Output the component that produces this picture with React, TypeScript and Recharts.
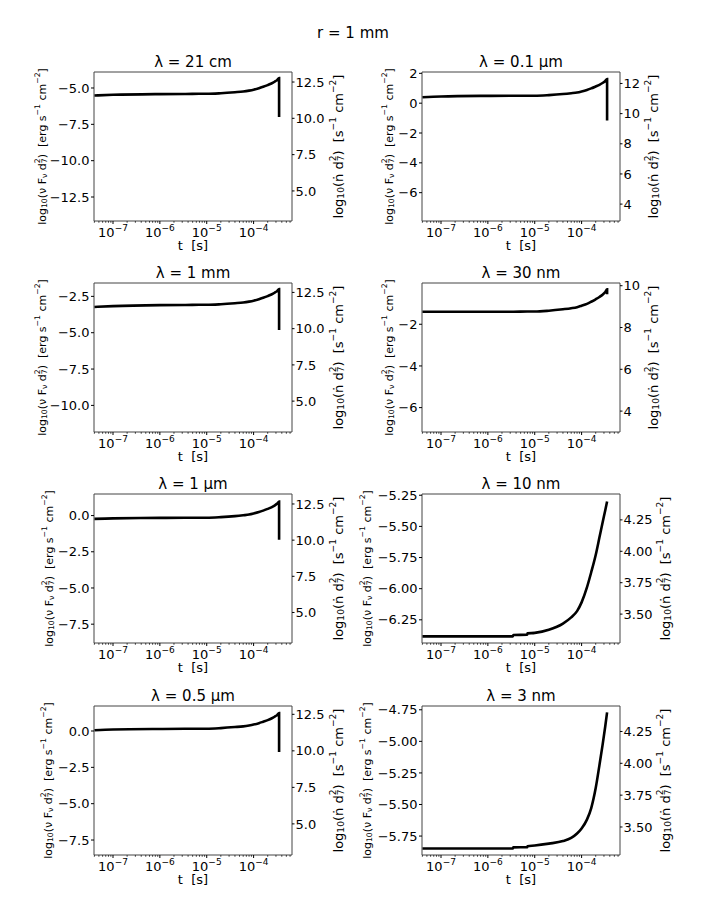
import { LineChart, Line, XAxis, YAxis, ReferenceLine } from 'recharts';

// r = 1 mm: log10 flux vs time for eight wavelengths (left axis = ν Fν d7², right axis = ṅ d7²)

const FONT = '"DejaVu Sans", sans-serif';
const SPINE = '#444';

// time samples [s]
const times = [
  4e-8, 1e-7, 1e-6, 3.4e-6, 3.5e-6, 6.9e-6, 7e-6, 1e-5, 2e-5, 4e-5, 6e-5, 8e-5, 1e-4, 1.3e-4, 1.6e-4, 2e-4,
  2.4e-4, 2.8e-4, 3.2e-4, 3.5e-4, 3.5e-4,
];

// log10(ν Fν d7²) per wavelength, one value per time sample
const flux21cm = [
  -5.52, -5.47, -5.42, -5.41, -5.41, -5.4, -5.4, -5.4, -5.36, -5.29, -5.24, -5.18, -5.12, -5.02, -4.92, -4.8,
  -4.69, -4.57, -4.44, -4.31, -7.0,
];
const flux01um = [
  0.4, 0.45, 0.49, 0.5, 0.5, 0.5, 0.5, 0.5, 0.54, 0.61, 0.67, 0.72, 0.79, 0.89, 0.99, 1.12, 1.23, 1.35, 1.49, 1.62,
  -1.16,
];
const flux1mm = [
  -3.23, -3.17, -3.1, -3.09, -3.09, -3.08, -3.08, -3.08, -3.04, -2.97, -2.92, -2.86, -2.8, -2.7, -2.6, -2.48, -2.37,
  -2.25, -2.12, -1.99, -4.82,
];
const flux30nm = [
  -1.4, -1.4, -1.4, -1.4, -1.4, -1.39, -1.39, -1.39, -1.35, -1.28, -1.23, -1.18, -1.11, -1.02, -0.92, -0.8, -0.69,
  -0.58, -0.45, -0.32, -0.56,
];
const flux1um = [
  -0.23, -0.19, -0.16, -0.15, -0.15, -0.15, -0.15, -0.15, -0.11, -0.04, 0.02, 0.07, 0.14, 0.24, 0.34, 0.46, 0.57,
  0.69, 0.83, 0.96, -1.67,
];
const flux10nm = [
  -6.383, -6.383, -6.383, -6.383, -6.372, -6.37, -6.359, -6.355, -6.33, -6.28, -6.23, -6.18, -6.11, -5.99, -5.87,
  -5.73, -5.59, -5.47, -5.37, -5.3, null,
];
const flux05um = [
  0.05, 0.1, 0.14, 0.15, 0.15, 0.16, 0.16, 0.16, 0.2, 0.27, 0.32, 0.38, 0.44, 0.54, 0.64, 0.75, 0.86, 0.98, 1.11,
  1.24, -1.44,
];
const flux3nm = [
  -5.848, -5.848, -5.848, -5.848, -5.84, -5.838, -5.83, -5.825, -5.81, -5.79, -5.765, -5.73, -5.69, -5.62, -5.53,
  -5.37, -5.19, -5.03, -4.88, -4.77, null,
];

// axis ticks
const xDomain: [number, number] = [3.93e-8, 6.6e-4];
const xMajor = [1e-7, 1e-6, 1e-5, 1e-4];
const xMinor: number[] = [];
for (const dec of [1e-8, 1e-7, 1e-6, 1e-5, 1e-4]) {
  for (const m of [2, 3, 4, 5, 6, 7, 8, 9]) {
    const v = m * dec;
    if (v >= xDomain[0] && v <= xDomain[1]) xMinor.push(v);
  }
}
const xTicks = [...xMajor, ...xMinor].sort((a, b) => a - b);

const ticksA = [-12.5, -10, -7.5, -5];
const ticksB = [-6, -4, -2, 0, 2];
const ticksC = [-10, -7.5, -5, -2.5];
const ticksD = [-6, -4, -2];
const ticksE = [-7.5, -5, -2.5, 0];
const ticksF = [-6.25, -6.0, -5.75, -5.5, -5.25];
const ticksG = [-5.75, -5.5, -5.25, -5.0, -4.75];
const rateTicksA = [5, 7.5, 10, 12.5];
const rateTicksB = [4, 6, 8, 10, 12];
const rateTicksC = [4, 6, 8, 10];
const rateTicksD = [3.5, 3.75, 4.0, 4.25];

type Panel = {
  title: string;
  flux: (number | null)[];
  left: [number, number];
  leftTicks: number[];
  leftDec: number;
  right: [number, number];
  rightTicks: number[];
  rightDec: number;
  col: number;
  row: number;
  leftLabelX: number;
  rightLabelX: number;
};

const panels: Panel[] = [
  { title: '21 cm', flux: flux21cm, left: [-14.15, -3.9], leftTicks: ticksA, leftDec: 1, right: [2.93, 13.19], rightTicks: rateTicksA, rightDec: 1, col: 0, row: 0, leftLabelX: 42, rightLabelX: 338 },
  { title: '0.1 μm', flux: flux01um, left: [-7.9, 2.09], leftTicks: ticksB, leftDec: 0, right: [2.88, 12.76], rightTicks: rateTicksB, rightDec: 0, col: 1, row: 0, leftLabelX: 389, rightLabelX: 653 },
  { title: '1 mm', flux: flux1mm, left: [-11.83, -1.58], leftTicks: ticksC, leftDec: 1, right: [2.87, 13.15], rightTicks: rateTicksA, rightDec: 1, col: 0, row: 1, leftLabelX: 42, rightLabelX: 338 },
  { title: '30 nm', flux: flux30nm, left: [-7.17, -0.02], leftTicks: ticksD, leftDec: 0, right: [3.0, 10.13], rightTicks: rateTicksC, rightDec: 0, col: 1, row: 1, leftLabelX: 389, rightLabelX: 653 },
  { title: '1 μm', flux: flux1um, left: [-8.8, 1.49], leftTicks: ticksE, leftDec: 1, right: [2.89, 13.19], rightTicks: rateTicksA, rightDec: 1, col: 0, row: 2, leftLabelX: 49, rightLabelX: 338 },
  { title: '10 nm', flux: flux10nm, left: [-6.436, -5.24], leftTicks: ticksF, leftDec: 2, right: [3.27, 4.456], rightTicks: rateTicksD, rightDec: 2, col: 1, row: 2, leftLabelX: 367, rightLabelX: 665 },
  { title: '0.5 μm', flux: flux05um, left: [-8.53, 1.72], leftTicks: ticksE, leftDec: 1, right: [2.87, 13.07], rightTicks: rateTicksA, rightDec: 1, col: 0, row: 3, leftLabelX: 48, rightLabelX: 338 },
  { title: '3 nm', flux: flux3nm, left: [-5.9, -4.72], leftTicks: ticksG, leftDec: 2, right: [3.28, 4.45], rightTicks: rateTicksD, rightDec: 2, col: 1, row: 3, leftLabelX: 367, rightLabelX: 665 },
];

const ROW_TOPS = [72, 283, 494, 706];
const PLOT_H = 149;
const PLOT_W = 198;
const COL_X0 = [94, 422];
const CELL_W = 353;

const fmt = (dec: number) => (v: number) => v.toFixed(dec).replace('-', '\u2212');

function XTick(props: any) {
  const { x, y, payload } = props;
  const v = payload.value as number;
  const e = Math.round(Math.log10(v));
  const major = Math.abs(v / Math.pow(10, e) - 1) < 1e-6;
  return (
    <g>
      <line x1={x} x2={x} y1={y} y2={y + (major ? 3 : 1.8)} stroke="#000" strokeWidth={major ? 1 : 0.7} />
      {major && (
        <text x={x} y={y + 15.5} textAnchor="middle" fontSize={13} fontFamily={FONT} fill="#000">
          10
          <tspan fontSize={9} dy={-6}>
            {'\u2212' + Math.abs(e)}
          </tspan>
        </text>
      )}
    </g>
  );
}

function PanelChart({ p }: { p: Panel }) {
  const cellX = p.col * CELL_W;
  const x0 = COL_X0[p.col];
  const x1 = x0 + PLOT_W;
  const top = ROW_TOPS[p.row];
  const data = times.map((t, i) => ({ t, v: p.flux[i] }));
  return (
    <div style={{ position: 'absolute', left: cellX, top: top - 22 }}>
      <LineChart width={CELL_W} height={211} data={data} margin={{ top: 22, right: 0, bottom: 0, left: 0 }}>
        <XAxis
          dataKey="t"
          type="number"
          scale="log"
          domain={xDomain}
          allowDataOverflow
          ticks={xTicks}
          interval={0}
          tick={<XTick />}
          tickLine={false}
          tickSize={0}
          tickMargin={0}
          height={40}
          axisLine={{ stroke: SPINE }}
        />
        <YAxis
          yAxisId="left"
          type="number"
          domain={p.left}
          allowDataOverflow
          ticks={p.leftTicks}
          interval={0}
          width={x0 - cellX}
          tickFormatter={fmt(p.leftDec)}
          tick={{ fontSize: 13, fill: '#000', fontFamily: FONT }}
          tickLine={{ stroke: '#000' }}
          tickSize={3}
          tickMargin={1.5}
          axisLine={{ stroke: SPINE }}
        />
        <YAxis
          yAxisId="right"
          orientation="right"
          type="number"
          domain={p.right}
          allowDataOverflow
          ticks={p.rightTicks}
          interval={0}
          width={cellX + CELL_W - x1}
          tickFormatter={fmt(p.rightDec)}
          tick={{ fontSize: 13, fill: '#000', fontFamily: FONT }}
          tickLine={{ stroke: '#000' }}
          tickSize={2.5}
          tickMargin={1}
          axisLine={{ stroke: SPINE }}
        />
        <ReferenceLine yAxisId="left" y={p.left[1]} stroke={SPINE} ifOverflow="extendDomain" />
        <Line
          yAxisId="left"
          dataKey="v"
          type="monotone"
          stroke="#000"
          strokeWidth={2.6}
          dot={false}
          isAnimationActive={false}
        />
      </LineChart>
    </div>
  );
}

const SUB = 0.7;

function FluxLabel({ x, y }: { x: number; y: number }) {
  const s = 11;
  return (
    <text transform={`translate(${x},${y}) rotate(-90)`} textAnchor="middle" dominantBaseline="central" fontSize={s} fontFamily={FONT} fill="#000">
      {'log'}
      <tspan fontSize={s * SUB} baselineShift={-2.7}>10</tspan>
      {'(ν F'}
      <tspan fontSize={s * SUB} baselineShift={-2.7}>ν</tspan>
      {' d'}
      <tspan fontSize={s * SUB} baselineShift={-2.7}>7</tspan>
      <tspan fontSize={s * SUB} dx={-4.9} baselineShift={4.4}>2</tspan>
      {')\u00a0\u00a0[erg s'}
      <tspan fontSize={s * SUB} baselineShift={4.4}>{'\u22121'}</tspan>
      {' cm'}
      <tspan fontSize={s * SUB} baselineShift={4.4}>{'\u22122'}</tspan>
      {']'}
    </text>
  );
}

function RateLabel({ x, y }: { x: number; y: number }) {
  const s = 13;
  return (
    <text transform={`translate(${x},${y}) rotate(-90)`} textAnchor="middle" dominantBaseline="central" fontSize={s} fontFamily={FONT} fill="#000">
      {'log'}
      <tspan fontSize={s * SUB} baselineShift={-3}>10</tspan>
      {'(ṅ d'}
      <tspan fontSize={s * SUB} baselineShift={-3}>7</tspan>
      <tspan fontSize={s * SUB} dx={-5.8} baselineShift={5}>2</tspan>
      {')\u00a0\u00a0[s'}
      <tspan fontSize={s * SUB} baselineShift={5}>{'\u22121'}</tspan>
      {' cm'}
      <tspan fontSize={s * SUB} baselineShift={5}>{'\u22122'}</tspan>
      {']'}
    </text>
  );
}

export default function App() {
  return (
    <div style={{ position: 'absolute', left: 0, top: 0, width: 706, height: 913, background: '#fff', fontFamily: FONT }}>
      {panels.map((p) => (
        <PanelChart key={p.title} p={p} />
      ))}
      <svg width={706} height={913} style={{ position: 'absolute', left: 0, top: 0, pointerEvents: 'none' }}>
        <text x={353} y={38} textAnchor="middle" fontSize={15} fontFamily={FONT} fill="#000">
          r = 1 mm
        </text>
        {panels.map((p) => {
          const x0 = COL_X0[p.col];
          const cx = x0 + PLOT_W / 2;
          const top = ROW_TOPS[p.row];
          const cy = top + PLOT_H / 2;
          return (
            <g key={p.title}>
              <text x={cx} y={top - 5} textAnchor="middle" fontSize={15} fontFamily={FONT} fill="#000">
                {'λ = ' + p.title}
              </text>
              <text x={cx} y={top + PLOT_H + 29} textAnchor="middle" fontSize={13} fontFamily={FONT} fill="#000">
                {'t\u00a0\u00a0[s]'}
              </text>
              <FluxLabel x={p.leftLabelX} y={cy} />
              <RateLabel x={p.rightLabelX} y={cy} />
            </g>
          );
        })}
      </svg>
    </div>
  );
}
